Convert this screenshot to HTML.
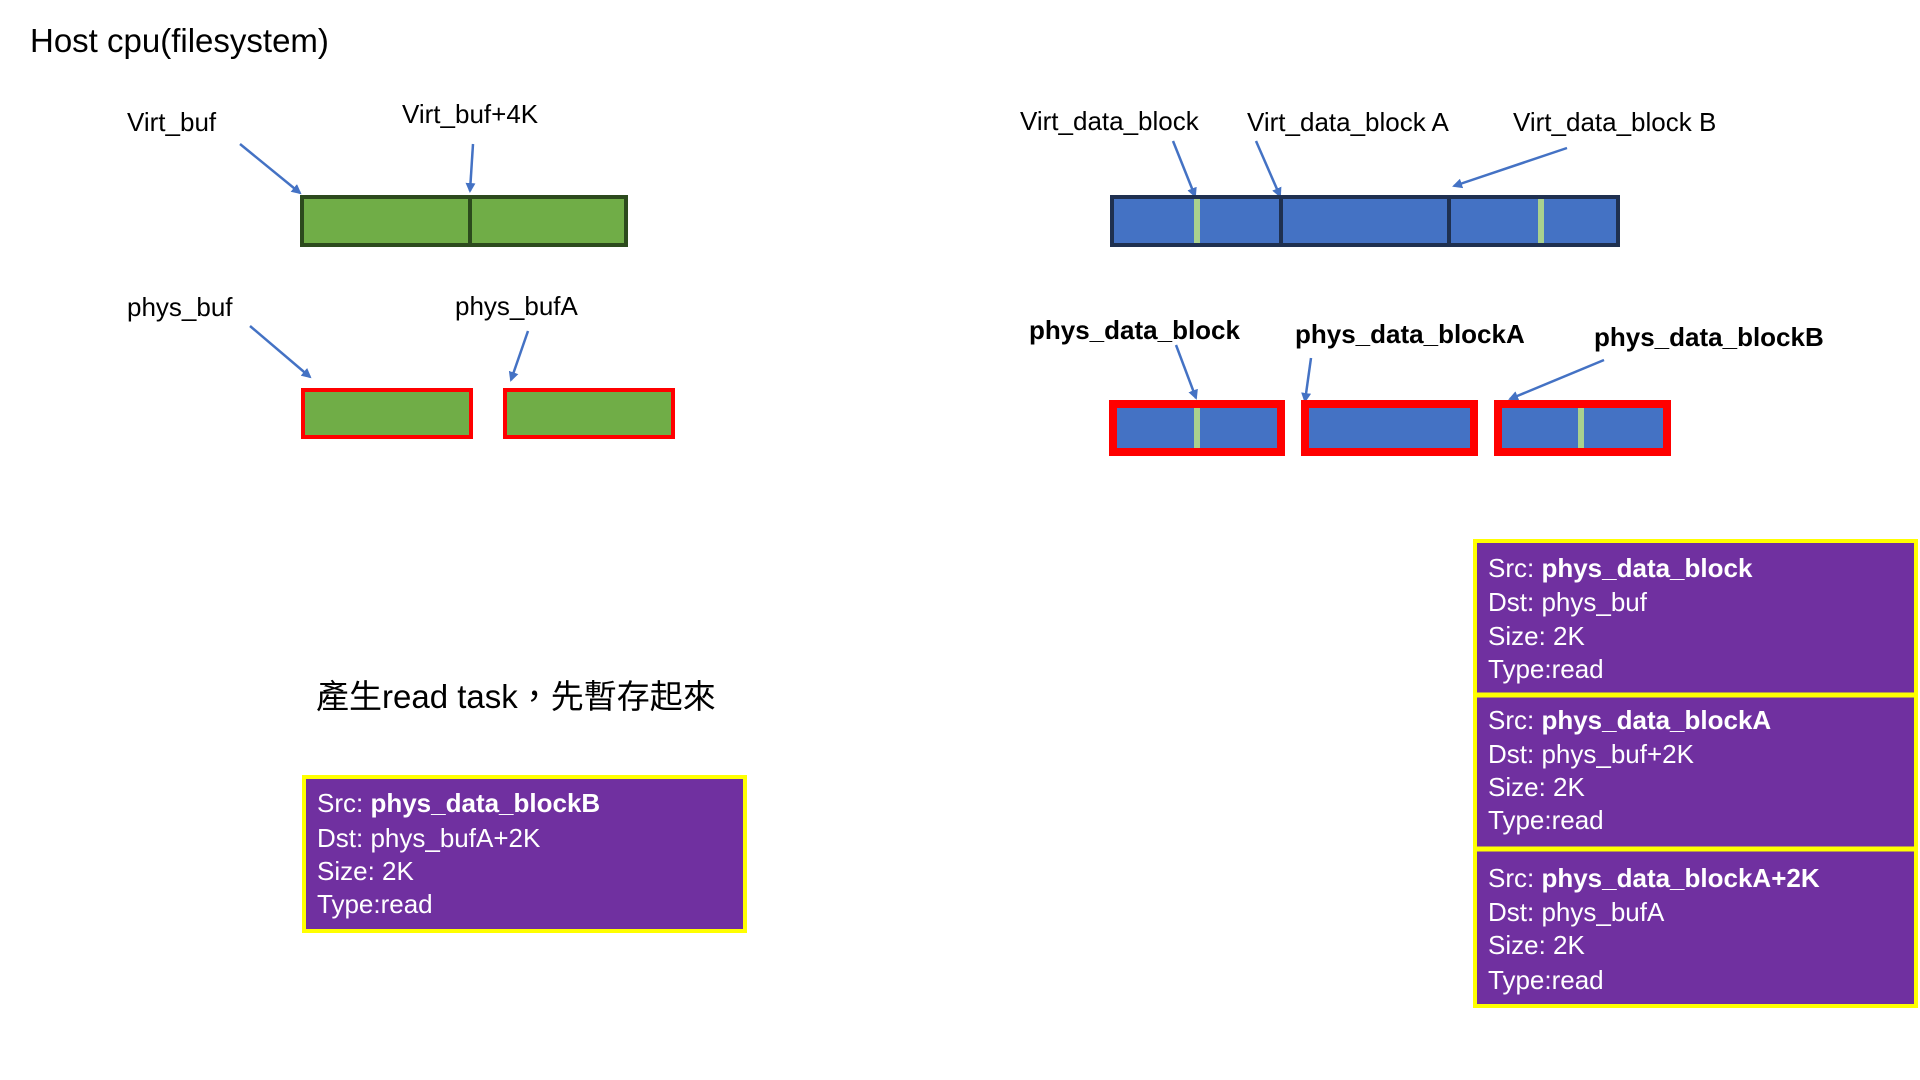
<!DOCTYPE html>
<html><head><meta charset="utf-8"><style>
html,body{margin:0;padding:0;background:#fff;width:1920px;height:1080px;overflow:hidden}
svg{display:block}
text{font-family:"Liberation Sans","Noto Sans CJK TC",sans-serif;fill:#000}
.w{fill:#fff}
</style></head><body>
<svg width="1920" height="1080" viewBox="0 0 1920 1080">
<defs><marker id="a" markerWidth="10" markerHeight="10" refX="8" refY="5" orient="auto" markerUnits="userSpaceOnUse"><path d="M0,0 L10,5 L0,10 z" fill="#4472c4"/></marker></defs>
<g stroke="#4472c4" stroke-width="2.5" marker-end="url(#a)" fill="none">
<line x1="240" y1="144" x2="300" y2="193"/>
<line x1="473" y1="144" x2="470" y2="191"/>
<line x1="250" y1="326" x2="310" y2="377"/>
<line x1="528" y1="331" x2="511" y2="380"/>
<line x1="1173" y1="141" x2="1195" y2="196"/>
<line x1="1256" y1="141" x2="1280" y2="196"/>
<line x1="1567" y1="148" x2="1454" y2="186"/>
<line x1="1176" y1="345" x2="1196" y2="398"/>
<line x1="1311" y1="358" x2="1305" y2="401"/>
<line x1="1604" y1="360" x2="1510" y2="399"/>
</g>
<text x="30" y="52" font-size="33">Host cpu(filesystem)</text>
<text x="127" y="131" font-size="26">Virt_buf</text>
<text x="402" y="123" font-size="26">Virt_buf+4K</text>
<text x="127" y="316" font-size="26">phys_buf</text>
<text x="455" y="315" font-size="26">phys_bufA</text>
<rect x="302" y="197" width="324" height="48" fill="#70ad47" stroke="#2c4a1d" stroke-width="4"/>
<line x1="470" y1="197" x2="470" y2="245" stroke="#2c4a1d" stroke-width="4"/>
<rect x="303" y="390" width="168" height="47" fill="#70ad47" stroke="#f00" stroke-width="4"/>
<rect x="505" y="390" width="168" height="47" fill="#70ad47" stroke="#f00" stroke-width="4"/>
<text x="1020" y="130" font-size="26">Virt_data_block</text>
<text x="1247" y="131" font-size="26">Virt_data_block A</text>
<text x="1513" y="131" font-size="26">Virt_data_block B</text>
<rect x="1112" y="197" width="506" height="48" fill="#4472c4" stroke="#1f3050" stroke-width="4"/>
<line x1="1281" y1="197" x2="1281" y2="245" stroke="#1f3050" stroke-width="4"/>
<line x1="1449" y1="197" x2="1449" y2="245" stroke="#1f3050" stroke-width="4"/>
<rect x="1194" y="199" width="6" height="44" fill="#a9d18e"/>
<rect x="1538" y="199" width="6" height="44" fill="#a9d18e"/>
<text x="1029" y="339" font-size="26" font-weight="bold">phys_data_block</text>
<text x="1295" y="343" font-size="26" font-weight="bold">phys_data_blockA</text>
<text x="1594" y="346" font-size="26" font-weight="bold">phys_data_blockB</text>
<rect x="1113" y="404" width="168" height="48" fill="#4472c4" stroke="#f00" stroke-width="8"/>
<rect x="1305" y="404" width="169" height="48" fill="#4472c4" stroke="#f00" stroke-width="8"/>
<rect x="1498" y="404" width="169" height="48" fill="#4472c4" stroke="#f00" stroke-width="8"/>
<rect x="1194" y="408" width="6" height="40" fill="#a9d18e"/>
<rect x="1578" y="408" width="6" height="40" fill="#a9d18e"/>
<text x="316" y="708" font-size="33">產生read task，先暫存起來</text>
<rect x="304" y="777" width="441" height="154" fill="#7030a0" stroke="#ff0" stroke-width="4"/>
<g font-size="26">
<text class="w" x="317" y="812">Src: <tspan font-weight="bold" class="w">phys_data_blockB</tspan></text>
<text class="w" x="317" y="847">Dst: phys_bufA+2K</text>
<text class="w" x="317" y="880">Size: 2K</text>
<text class="w" x="317" y="913">Type:read</text>
</g>
<rect x="1475" y="541" width="441" height="465" fill="#7030a0" stroke="#ff0" stroke-width="4"/>
<line x1="1475" y1="695" x2="1916" y2="695" stroke="#ff0" stroke-width="5"/>
<line x1="1475" y1="849" x2="1916" y2="849" stroke="#ff0" stroke-width="5"/>
<g font-size="26">
<text class="w" x="1488" y="577">Src: <tspan font-weight="bold" class="w">phys_data_block</tspan></text>
<text class="w" x="1488" y="611">Dst: phys_buf</text>
<text class="w" x="1488" y="645">Size: 2K</text>
<text class="w" x="1488" y="678">Type:read</text>
<text class="w" x="1488" y="729">Src: <tspan font-weight="bold" class="w">phys_data_blockA</tspan></text>
<text class="w" x="1488" y="763">Dst: phys_buf+2K</text>
<text class="w" x="1488" y="796">Size: 2K</text>
<text class="w" x="1488" y="829">Type:read</text>
<text class="w" x="1488" y="887">Src: <tspan font-weight="bold" class="w">phys_data_blockA+2K</tspan></text>
<text class="w" x="1488" y="921">Dst: phys_bufA</text>
<text class="w" x="1488" y="954">Size: 2K</text>
<text class="w" x="1488" y="989">Type:read</text>
</g>
</svg>
</body></html>
